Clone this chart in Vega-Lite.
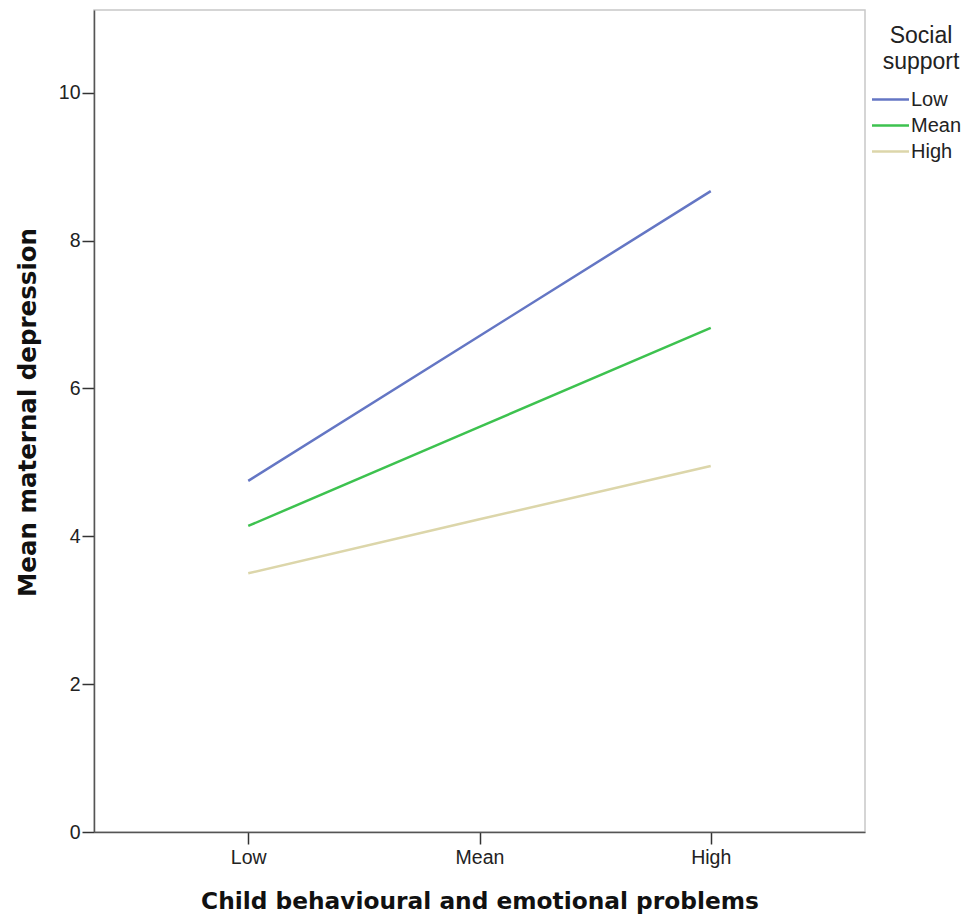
{
  "$schema": "https://vega.github.io/schema/vega-lite/v6.json",
  "width": 771,
  "height": 822,
  "autosize": "none",
  "padding": {"left": 94, "top": 10, "right": 101, "bottom": 88},
  "background": "white",
  "config": {
    "view": {"stroke": "#c8c8c8", "strokeWidth": 1.5},
    "axis": {
      "labelFont": "Liberation Sans",
      "labelFontSize": 19.5,
      "labelColor": "#222222",
      "titleFont": "DejaVu Sans",
      "titleFontWeight": "bold",
      "titleFontSize": 23.3,
      "titleColor": "#111111",
      "domainColor": "#555555",
      "domainWidth": 1.5,
      "tickColor": "#333333",
      "tickSize": 12,
      "tickWidth": 1.5,
      "grid": false
    },
    "legend": {
      "titleFont": "Liberation Sans",
      "titleFontWeight": "normal",
      "titleFontSize": 23,
      "titleLineHeight": 26,
      "titleColor": "#222222",
      "labelFont": "Liberation Sans",
      "labelFontSize": 20,
      "labelColor": "#222222"
    }
  },
  "data": {
    "values": [
      {"child": "Low", "support": "Low", "depression": 4.75},
      {"child": "Mean", "support": "Low", "depression": 6.71},
      {"child": "High", "support": "Low", "depression": 8.67},
      {"child": "Low", "support": "Mean", "depression": 4.14},
      {"child": "Mean", "support": "Mean", "depression": 5.48},
      {"child": "High", "support": "Mean", "depression": 6.82},
      {"child": "Low", "support": "High", "depression": 3.50},
      {"child": "Mean", "support": "High", "depression": 4.23},
      {"child": "High", "support": "High", "depression": 4.95}
    ]
  },
  "mark": {"type": "line", "strokeWidth": 2.5},
  "encoding": {
    "x": {
      "field": "child",
      "type": "ordinal",
      "sort": ["Low", "Mean", "High"],
      "scale": {"type": "point", "padding": 0.667},
      "axis": {"title": "Child behavioural and emotional problems", "labelAngle": 0, "labelPadding": 4, "titlePadding": 24}
    },
    "y": {
      "field": "depression",
      "type": "quantitative",
      "scale": {"domain": [0, 11.12], "nice": false, "zero": true},
      "axis": {"title": "Mean maternal depression", "titleFontSize": 24.5, "titleY": 402, "values": [0, 2, 4, 6, 8, 10], "labelPadding": 2, "titlePadding": 18}
    },
    "color": {
      "field": "support",
      "type": "nominal",
      "sort": ["Low", "Mean", "High"],
      "scale": {"domain": ["Low", "Mean", "High"], "range": ["#6476c4", "#3dc24f", "#dcd6aa"]},
      "legend": {
        "title": ["Social", "support"],
        "orient": "none",
        "legendX": 786,
        "legendY": 15,
        "titleAnchor": "middle",
        "titleAlign": "center",
        "symbolType": "M-2,0H2",
        "symbolSize": 342,
        "symbolStrokeWidth": 2.5,
        "labelOffset": 10,
        "rowPadding": 5,
        "titlePadding": 15
      }
    }
  }
}
